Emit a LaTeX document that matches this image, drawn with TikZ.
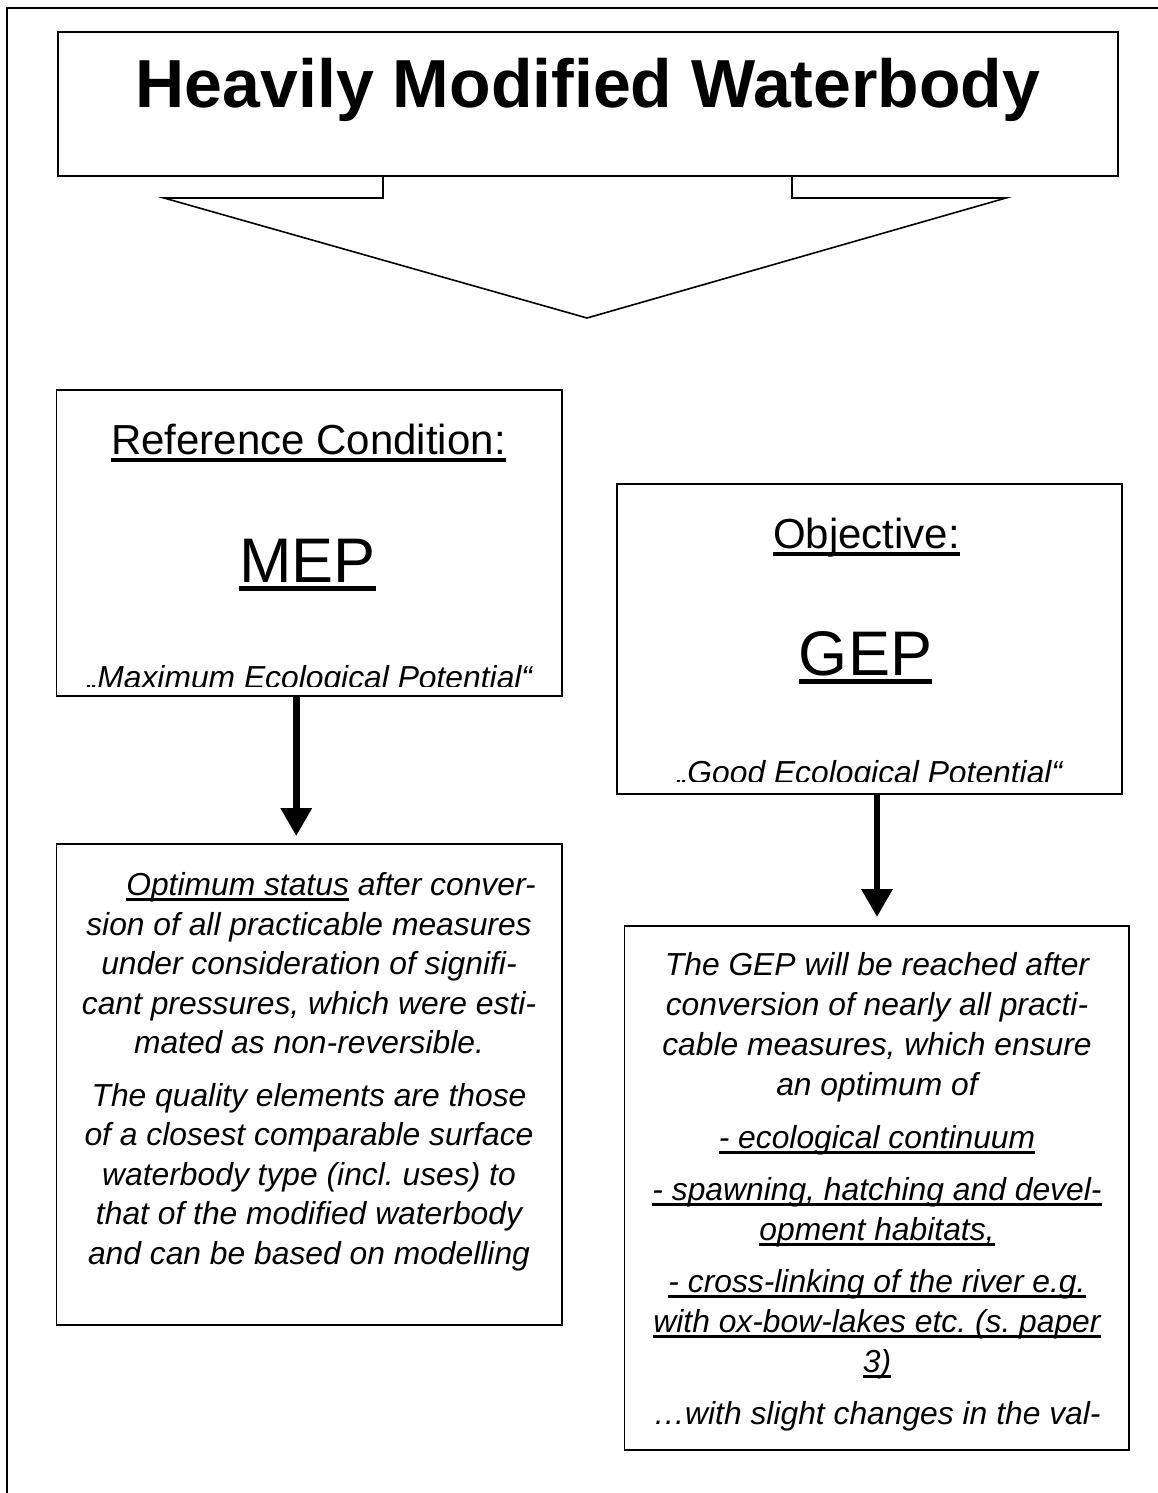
\documentclass[tikz,border=0pt]{standalone}
\usepackage{fontspec}
\setmainfont{Liberation Sans}
\usetikzlibrary{arrows.meta}
\frenchspacing
\newsavebox\ulbox
\newcommand\ulr[3]{\sbox\ulbox{#3}\rlap{\rule[-#1]{\wd\ulbox}{#2}}\usebox\ulbox}
\newcommand\ulin[1]{\ulr{5.5pt}{2.3pt}{#1}}
\begin{document}
\begin{tikzpicture}[x=1pt,y=-1pt,
  box/.style={draw, line width=1.6pt, inner sep=0pt, outer sep=0pt, rectangle},
  body/.style={anchor=base, inner sep=0pt, font=\fontsize{31.8}{40}\selectfont\itshape},
  head/.style={anchor=base, inner sep=0pt, font=\fontsize{42}{50}\selectfont},
  big/.style={anchor=base, inner sep=0pt, font=\fontsize{63}{70}\selectfont},
  conn/.style={line width=6.5pt, -{Triangle[width=30pt,length=28pt]}}]

\useasboundingbox (0,0) rectangle (1158,1493);
\fill[white] (0,0) rectangle (1158,1493);
% outer frame (cut by the page at right and bottom)
\draw[line width=1.8pt] (1162,8) -- (7,8) -- (7,1497);

% boxes
\node[box, minimum width=1060pt, minimum height=144pt] (title) at (588,104) {};
\node[box, minimum width=505.5pt, minimum height=306pt] (mep) at (309.25,543) {};
\node[box, minimum width=505pt, minimum height=310pt] (gep) at (869.5,639) {};
\node[box, minimum width=505.5pt, minimum height=481pt] (lowl) at (309.25,1084.5) {};
\node[box, minimum width=504.5pt, minimum height=524pt] (lowr) at (876.75,1188) {};

% title
\node[anchor=base, inner sep=0pt, font=\fontsize{68}{74}\selectfont\bfseries] (ttext) at (588,108) {Heavily Modified Waterbody};

% block arrow under title
\draw[line width=1.6pt, line join=miter] ([xshift=-205pt]title.south) -- ++(0,22) -- ++(-219,0)
  -- ++(423,120) -- ++(419,-120) -- ++(-214,0) -- ++(0,-22);

% MEP box texts
\node[head] (refc) at (308.5,454) {\ulr{8pt}{4pt}{Reference Condition:}};
\node[big] (meptxt) at (307.5,582) {\ulr{8.5pt}{4.5pt}{MEP}};
\begin{scope}
  \clip (57,600) rectangle (562,686);
  \node[body] (mepq) at (309.5,688) {„Maximum Ecological Potential“};
\end{scope}

% GEP box texts
\node[head] (obj) at (866.5,548) {\ulr{8pt}{4pt}{Objective:}};
\node[big] (geptxt) at (865.5,675) {\ulr{8.5pt}{4.5pt}{GEP}};
\begin{scope}
  \clip (617,700) rectangle (1122,781.5);
  \node[body] (gepq) at (869.5,783) {„Good Ecological Potential“};
\end{scope}

% connectors
\draw[conn, shorten >=8pt] ([xshift=-13pt]mep.south) -- ([xshift=-13pt]lowl.north);
\draw[conn, shorten >=9pt] ([xshift=7.5pt]gep.south) -- ([xshift=0.25pt]lowr.north);

% lower left text
\node[body] (l1) at (309,895) {\hspace*{44pt}\ulin{Optimum status} after conver-};
\node[body] (l2) at (309,935) {sion of all practicable measures};
\node[body] (l3) at (309,974.5) {under consideration of signifi-};
\node[body] (l4) at (309,1014) {cant pressures, which were esti-};
\node[body] (l5) at (309,1053.5) {mated as non-reversible.};
\node[body] (l6) at (309,1106) {The quality elements are those};
\node[body] (l7) at (309,1145.5) {of a closest comparable surface};
\node[body] (l8) at (309,1185) {waterbody type (incl. uses) to};
\node[body] (l9) at (309,1224.5) {that of the modified waterbody};
\node[body] (l10) at (309,1264) {and can be based on modelling};

% lower right text
\node[body] (r1) at (877,975) {The GEP will be reached after};
\node[body] (r2) at (877,1015) {conversion of nearly all practi-};
\node[body] (r3) at (877,1055) {cable measures, which ensure};
\node[body] (r4) at (877,1095) {an optimum of};
\node[body] (r5) at (877,1148) {\ulin{- ecological continuum}};
\node[body] (r6) at (877,1200) {\ulin{- spawning, hatching and devel-}};
\node[body] (r7) at (877,1240) {\ulin{opment habitats,}};
\node[body] (r8) at (877,1292) {\ulin{- cross-linking of the river e.g.}};
\node[body] (r9) at (877,1332) {\ulin{with ox-bow-lakes etc. (s. paper}};
\node[body] (r10) at (877,1372) {\ulin{3)}};
\node[body] (r11) at (877,1424) {…with slight changes in the val-};
\end{tikzpicture}
\end{document}
